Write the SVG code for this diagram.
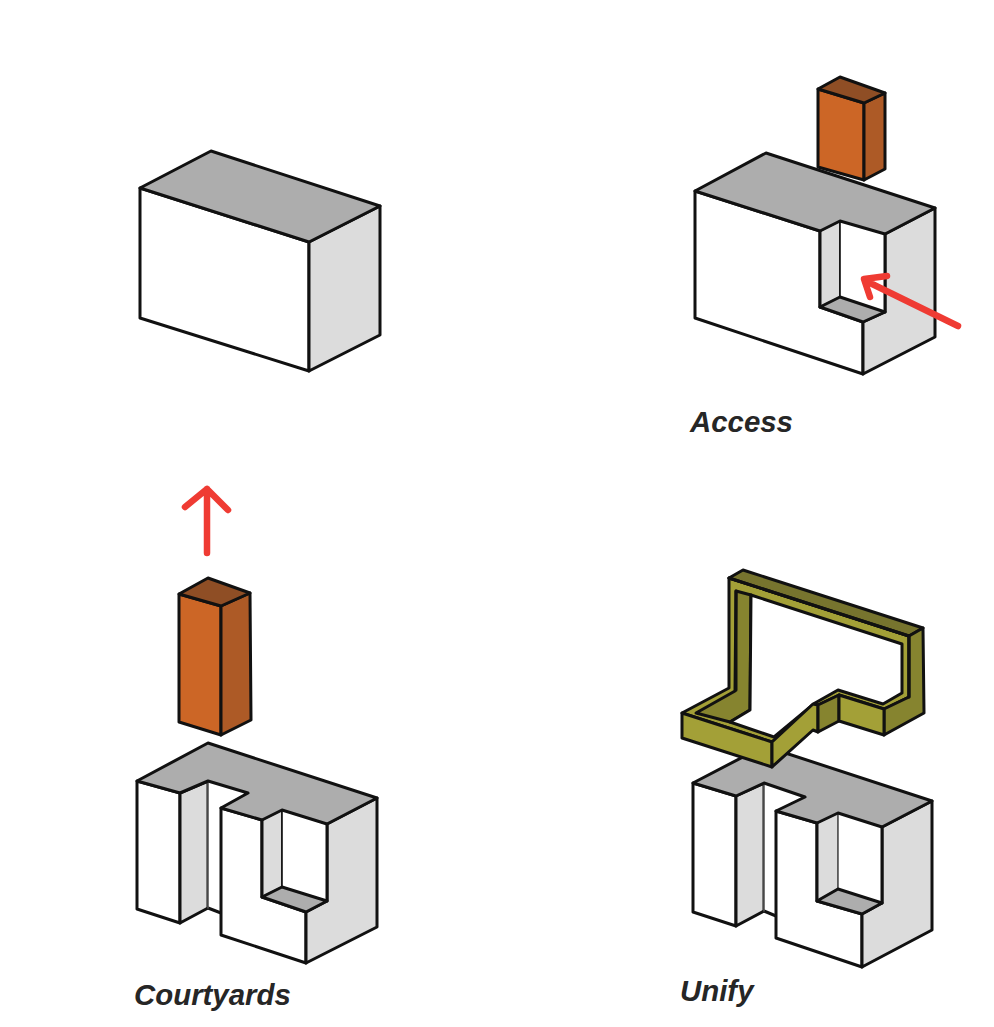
<svg xmlns="http://www.w3.org/2000/svg" width="994" height="1027" viewBox="0 0 994 1027">
<style>
polygon,polyline,path{stroke:#111;stroke-width:3;stroke-linejoin:round;stroke-linecap:round}
.w{fill:#fff}.l{fill:#dcdcdc}.g{fill:#adadad}
.of{fill:#cc6626}.or{fill:#ad5a26}.ot{fill:#8f4e25}
.y1{fill:#a3a037}.y2{fill:#86842f}.y3{fill:#77742e}
.thin{stroke-width:1.6}
.edge{fill:none}
.arrow{fill:none;stroke:#ef3b33;stroke-width:6.5}
text{font-family:"Liberation Sans",Arial,sans-serif;font-weight:700;font-style:italic;font-size:29.4px;fill:#262626}
</style>
<rect width="994" height="1027" fill="#fff"/>
<g id="block-plain">
<polygon class="w" points="140,188 309,242 309,371 140,318"/>
<polygon class="l" points="309,242 380,206 380,335 309,371"/>
<polygon class="g" points="140,188 211,151 380,206 309,242"/>
</g>
<g id="tower-access">
<polygon class="of" points="818,89 864,103 864,180 818,167"/>
<polygon class="or" points="864,103 885,93 885,169 864,180"/>
<polygon class="ot" points="818,89 840,77 885,93 864,103"/>
</g>
<g id="block-access">
<polygon class="w" points="695,191 820,231 820,307 863,322 863,374 695,318"/>
<polygon class="l" points="885,234 935,208 935,337 863,374 863,322 885,312"/>
<polygon class="l thin" points="820,231 840,221 840,297 820,307"/>
<polygon class="w thin" points="840,221 885,234 885,312 840,297"/>
<polygon class="g" points="820,307 840,297 885,312 863,322"/>
<polygon class="g" points="695,191 766,153 935,208 885,234 840,221 820,231"/>
<polyline class="edge" points="820,231 820,307"/>
<polyline class="edge" points="885,234 885,312"/>
</g>
<g id="tower-courtyards">
<polygon class="of" points="179,594 221,606 221,735 179,722"/>
<polygon class="or" points="221,606 250,593 251,720 221,735"/>
<polygon class="ot" points="179,594 208,578 250,593 221,606"/>
</g>
<g id="block-courtyards">
<polygon class="w" points="137,781 180,793 180,923 137,909"/>
<polygon class="l" points="180,793 208,781 208,908 180,923"/>
<polygon class="w" style="stroke-width:0" points="208,781 248,793 221,808 221,913 208,908"/>
<polyline class="edge" points="208,908 221,913"/>
<polyline class="thin edge" style="stroke:#555" points="208,781 208,908"/>
<polygon class="w" points="221,808 262,820 262,897 306,912 306,963 221,935"/>
<polygon class="l" points="327,824 377,798 377,927 306,963 306,912 327,901"/>
<polygon class="l thin" points="262,820 282,810 282,887 262,897"/>
<polygon class="w thin" points="282,810 327,824 327,901 282,887"/>
<polygon class="g" points="262,897 282,887 327,901 306,912"/>
<polygon class="g" points="137,781 208,743 377,798 327,824 282,810 262,820 221,808 248,793 208,781 180,793"/>
<polyline class="edge" points="262,820 262,897"/>
<polyline class="edge" points="327,824 327,901"/>
</g>
<g id="block-unify">
<polygon class="w" points="693,783 736,796 736,926 693,912"/>
<polygon class="l" points="736,796 764,783 764,911 736,926"/>
<polygon class="w" style="stroke-width:0" points="764,783 805,797 776,811 776,916 764,911"/>
<polyline class="edge" points="764,911 776,916"/>
<polyline class="thin edge" style="stroke:#555" points="764,783 764,911"/>
<polygon class="w" points="776,811 817,823 817,901 862,914 862,967 776,938"/>
<polygon class="l" points="882,827 932,801 932,930 862,967 862,914 882,903"/>
<polygon class="l thin" style="stroke:#555" points="817,823 838,813 838,889 817,901"/>
<polygon class="w thin" style="stroke:#555" points="838,813 882,827 882,903 838,889"/>
<polygon class="g" points="817,901 838,889 882,903 862,914"/>
<polygon class="g" points="693,783 764,746 932,801 882,827 838,813 817,823 776,811 805,797 764,783 736,796"/>
<polyline class="edge" points="817,823 817,901"/>
<polyline class="edge" points="882,827 882,903"/>
</g>
<g id="ring-unify">
<polygon class="y1" points="729,578 909,636 909,697 884,709 839,695 818,705 813,704 772,742 682,713 729,688"/>
<polygon class="y2" points="736,591 751,595 750,710 730,722 696,713 735,691"/>
<polygon class="w" points="751,595 902,644 902,693 883,704 838,690 815,703 774,737 730,722 750,710"/>
<polygon class="y3" points="729,578 743,570 923,628 909,636"/>
<polygon class="y2" points="909,636 923,628 924,713 884,735 884,709 909,697"/>
<polygon class="y1" points="682,713 772,742 772,767 682,738"/>
<polygon class="y1" points="772,742 813,704 818,705 818,732 813,730 772,767"/>
<polygon class="y2" points="818,705 839,695 839,721 818,732"/>
<polygon class="y1" points="839,695 884,709 884,735 839,721"/>
<polyline class="edge" points="729,578 909,636"/>
<polyline class="edge" points="736,591 736,690"/>
<polyline class="edge" points="909,636 909,697"/>
</g>
<g id="connectors">
<path class="arrow" d="M207,553V489M185,507L207,489L228,510"/>
<path class="arrow" d="M958,326L866,281M887,276L864,279L870,297"/>
</g>
<g id="labels">
<text x="690" y="432">Access</text>
<text x="134" y="1005">Courtyards</text>
<text x="680" y="1001">Unify</text>
</g>
</svg>
